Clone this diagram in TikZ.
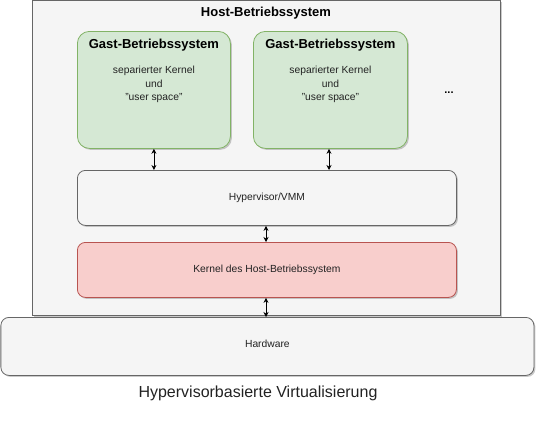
\documentclass[tikz,border=0pt]{standalone}
\usepackage{fontspec}
\setmainfont{Liberation Sans}
\usetikzlibrary{shadows,arrows.meta,positioning}
\definecolor{hostfill}{HTML}{F5F5F5}
\definecolor{hoststroke}{HTML}{666666}
\definecolor{greenfill}{HTML}{D5E8D4}
\definecolor{greenstroke}{HTML}{82B366}
\definecolor{redfill}{HTML}{F8CECC}
\definecolor{redstroke}{HTML}{B85450}
\definecolor{txt}{HTML}{222222}
\tikzset{
  shad/.style={drop shadow={shadow xshift=1.5bp,shadow yshift=-1.5bp,opacity=0.35,fill=black!60}},
  box/.style={draw=hoststroke,fill=hostfill,line width=0.8bp,shad,inner sep=0pt},
  guest/.style={draw=greenstroke,fill=greenfill,line width=0.8bp,rounded corners=12bp,shad,inner sep=0pt},
  kern/.style={draw=redstroke,fill=redfill,line width=0.8bp,rounded corners=8bp,shad,inner sep=0pt},
  layer/.style={box,rounded corners=8bp},
  small/.style={font=\fontsize{10.3bp}{13.5bp}\selectfont,text=txt,align=center},
  bigt/.style={font=\bfseries\fontsize{13bp}{15bp}\selectfont,text=black},
  conn/.style={{Stealth[length=5bp,width=5bp]}-{Stealth[length=5bp,width=5bp]},line width=0.7bp},
}
\begin{document}
\begin{tikzpicture}[x=1bp,y=-1bp]
\useasboundingbox (0,0) rectangle (540,421);
% host
\node[box,minimum width=468bp,minimum height=315bp,anchor=north west] (host) at (32,0) {};
\node[bigt,anchor=center] (hosttitle) at (266,13) {Host-Betriebssystem};
% guests
\node[guest,minimum width=153bp,minimum height=117bp,anchor=north west] (g1) at (77,31) {};
\node[guest,minimum width=154bp,minimum height=117bp,anchor=north west] (g2) at (253,31) {};
\node[bigt] (g1t) at ([yshift=-14bp]g1.north) {Gast-Betriebssystem};
\node[bigt] (g2t) at ([yshift=-14bp]g2.north) {Gast-Betriebssystem};
\node[small,anchor=north] (g1b) at ([yshift=-32bp]g1.north) {separierter Kernel\\und\\"user space"};
\node[small,anchor=north] (g2b) at ([yshift=-32bp]g2.north) {separierter Kernel\\und\\"user space"};
\node[font=\bfseries\fontsize{11bp}{12bp}\selectfont] (dots) at (449,93) {...};
% hypervisor
\node[layer,minimum width=379bp,minimum height=55bp,anchor=north west] (hyp) at (77,170) {};
\node[small] (hypt) at (hyp.center) {Hypervisor/VMM};
% kernel
\node[kern,minimum width=379bp,minimum height=55bp,anchor=north west] (kern) at (77,242) {};
\node[small] (kernt) at (kern.center) {Kernel des Host-Betriebssystem};
% hardware
\node[layer,minimum width=533bp,minimum height=58bp,anchor=north west] (hw) at (0.5,317) {};
\node[small] (hwt) at ([yshift=2.5bp]hw.center) {Hardware};
% caption
\node[font=\fontsize{16bp}{18bp}\selectfont,text=txt] (cap) at (258,393) {Hypervisorbasierte Virtualisierung};
% connectors
\draw[conn] (g1.south) -- (g1.south |- hyp.north);
\draw[conn] (g2.south -| 329,0) -- (329,170);
\draw[conn] (hyp.south -| 266,0) -- (266,242);
\draw[conn] (kern.south -| 266,0) -- (266,317);
\end{tikzpicture}
\end{document}
